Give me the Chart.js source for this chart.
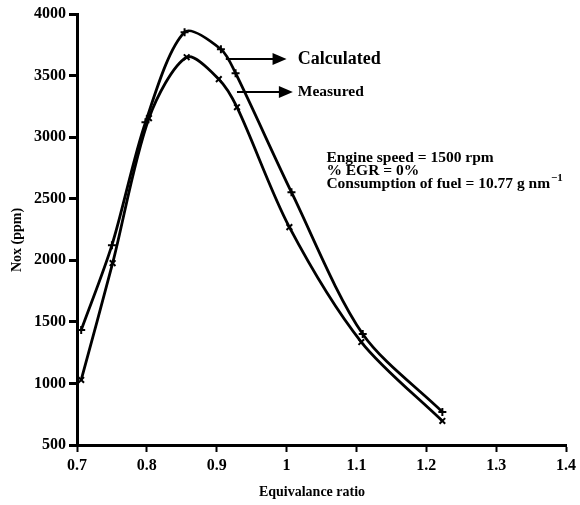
<!DOCTYPE html>
<html>
<head>
<meta charset="utf-8">
<script src="https://cdn.jsdelivr.net/npm/chart.js@4"></script>
<style>
  html, body { margin: 0; padding: 0; background: #fff; }
  #wrap { width: 580px; height: 505px; }
</style>
</head>
<body>
<div id="wrap"><canvas id="noxChart" width="580" height="505"></canvas></div>
<script>
// equivalence ratio / NOx readings taken off the figure
const phiCalc = [0.706, 0.750, 0.798, 0.854, 0.906, 0.927, 1.007, 1.109, 1.223];
const noxCalc = [1433, 2123, 3120, 3852, 3714, 3519, 2553, 1401, 768];
const phiMeas = [0.706, 0.751, 0.803, 0.857, 0.903, 0.929, 1.004, 1.107, 1.223];
const noxMeas = [1028, 1977, 3154, 3649, 3471, 3243, 2269, 1336, 695];

const xTicks = [0.7, 0.8, 0.9, 1, 1.1, 1.2, 1.3, 1.4];
const yTicks = [500, 1000, 1500, 2000, 2500, 3000, 3500, 4000];

const serif = "'Liberation Serif', 'DejaVu Serif', serif";

function toPoints(xs, ys) {
  return xs.map((x, i) => ({ x: x, y: ys[i] }));
}

function arrow(ctx, x0, x1, y) {
  ctx.beginPath();
  ctx.moveTo(x0, y);
  ctx.lineTo(x1 - 12, y);
  ctx.stroke();
  ctx.beginPath();
  ctx.moveTo(x1, y);
  ctx.lineTo(x1 - 14, y - 6);
  ctx.lineTo(x1 - 14, y + 6);
  ctx.closePath();
  ctx.fill();
}

// arrows, labels, axis titles and run conditions
const notes = {
  id: 'notes',
  afterDraw(chart) {
    const ctx = chart.ctx;
    const xs = chart.scales.x, ys = chart.scales.y;
    ctx.save();
    ctx.strokeStyle = '#000';
    ctx.fillStyle = '#000';
    ctx.lineWidth = 2;
    ctx.textBaseline = 'middle';

    let y = ys.getPixelForValue(3635);
    arrow(ctx, xs.getPixelForValue(0.913), xs.getPixelForValue(1.0), y);
    ctx.font = 'bold 18px ' + serif;
    ctx.fillText('Calculated', xs.getPixelForValue(1.016), y);

    y = ys.getPixelForValue(3367);
    arrow(ctx, xs.getPixelForValue(0.929), xs.getPixelForValue(1.009), y);
    ctx.font = 'bold 15.5px ' + serif;
    ctx.fillText('Measured', xs.getPixelForValue(1.016), y);

    const tx = xs.getPixelForValue(1.057);
    ctx.font = 'bold 15.5px ' + serif;
    ctx.fillText('Engine speed = 1500 rpm', tx, ys.getPixelForValue(2831));
    ctx.fillText('% EGR = 0%', tx, ys.getPixelForValue(2725));
    const ly = ys.getPixelForValue(2620);
    const line3 = 'Consumption of fuel = 10.77 g nm';
    ctx.fillText(line3, tx, ly);
    const w = ctx.measureText(line3).width;
    ctx.font = 'bold 11px ' + serif;
    ctx.fillText('\u22121', tx + w + 1, ly - 6);

    // axis titles
    ctx.font = 'bold 14px ' + serif;
    ctx.textAlign = 'center';
    ctx.fillText('Equivalance ratio', 312, 492);
    ctx.translate(17, 240);
    ctx.rotate(-Math.PI / 2);
    ctx.fillText('Nox (ppm)', 0, 0);
    ctx.restore();
  }
};

const lineStyle = {
  borderColor: '#000',
  backgroundColor: '#000',
  borderWidth: 2.8,
  pointBorderWidth: 2,
  pointRadius: 4,
  pointBorderColor: '#000',
  showLine: true,
  tension: 0.3,
  fill: false
};

new Chart(document.getElementById('noxChart'), {
  type: 'scatter',
  data: {
    datasets: [
      Object.assign({ label: 'Calculated', data: toPoints(phiCalc, noxCalc), pointStyle: 'cross' }, lineStyle),
      Object.assign({ label: 'Measured', data: toPoints(phiMeas, noxMeas), pointStyle: 'crossRot' }, lineStyle)
    ]
  },
  options: {
    responsive: false,
    animation: false,
    layout: { padding: { top: 14, right: 13, left: 0, bottom: 0 } },
    plugins: { legend: { display: false }, tooltip: { enabled: false } },
    scales: {
      x: {
        type: 'linear',
        min: 0.7, max: 1.4,
        afterBuildTicks: s => { s.ticks = xTicks.map(v => ({ value: v })); },
        afterFit: s => { s.height = 60; },
        border: { color: '#000', width: 3 },
        grid: { drawOnChartArea: false, drawTicks: true, tickLength: 7, tickWidth: 2, tickColor: '#000' },
        ticks: {
          color: '#000', padding: 4,
          font: { family: serif, size: 16, weight: 'bold' },
          callback: v => String(v)
        }
      },
      y: {
        type: 'linear',
        min: 500, max: 4000,
        afterBuildTicks: s => { s.ticks = yTicks.map(v => ({ value: v })); },
        afterFit: s => { s.width = 77; },
        border: { color: '#000', width: 3 },
        grid: { drawOnChartArea: false, drawTicks: true, tickLength: 8, tickWidth: 3, tickColor: '#000' },
        ticks: {
          color: '#000', padding: 3,
          font: { family: serif, size: 16, weight: 'bold' },
          callback: v => String(v)
        }
      }
    }
  },
  plugins: [notes]
});
</script>
</body>
</html>
